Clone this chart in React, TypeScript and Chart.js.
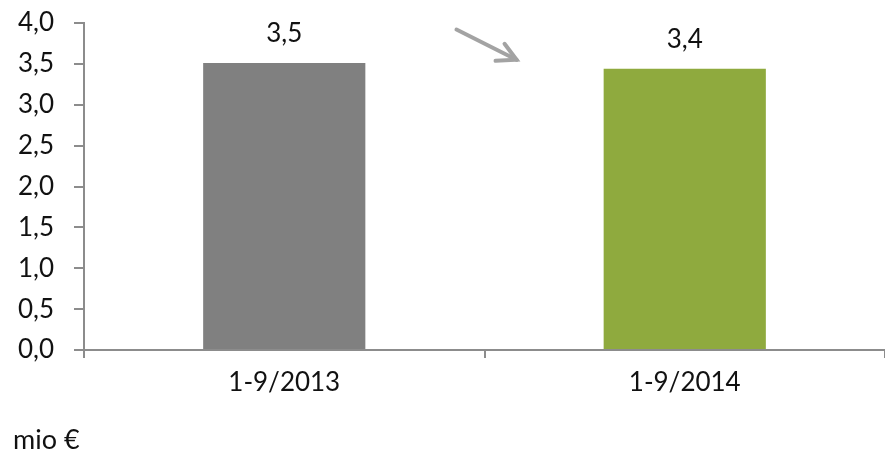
import React, { useEffect, useRef } from "react";
import { Chart, registerables } from "chart.js";

Chart.register(...registerables);

const categories = ["1-9/2013", "1-9/2014"];
const values = [3.51, 3.44];
const barColors = ["#808080", "#8faa3e"];
const yTicks = [0, 0.5, 1, 1.5, 2, 2.5, 3, 3.5, 4];
const unitLabel = "mio €";
// arrow from/to in (category index, value) space
const arrowFrom = [0.43, 3.92];
const arrowTo = [0.58, 3.55];

const FONT = "Lato, 'Open Sans', sans-serif";
const FS = 26;
const fmt = (v: number) => v.toFixed(1).replace(".", ",");

export default function App() {
  const ref = useRef<HTMLCanvasElement | null>(null);

  useEffect(() => {
    document.body.style.margin = "0";
    const canvas = ref.current;
    if (!canvas) return;

    const labelPlugin = {
      id: "valueLabels",
      afterDatasetsDraw(chart: any) {
        const ctx = chart.ctx;
        const meta = chart.getDatasetMeta(0);
        ctx.save();
        ctx.font = `${FS}px ${FONT}`;
        ctx.fillStyle = "#111";
        ctx.textAlign = "center";
        ctx.textBaseline = "middle";
        meta.data.forEach((bar: any, i: number) => {
          ctx.fillText(fmt(values[i]), bar.x, bar.y - 29);
        });
        // arrow
        const xs = chart.scales.x;
        const ys = chart.scales.y;
        const px = (c: number) => {
          const a = xs.getPixelForValue(0);
          const b = xs.getPixelForValue(1);
          return a + (b - a) * c;
        };
        const x1 = px(arrowFrom[0]);
        const y1 = ys.getPixelForValue(arrowFrom[1]);
        const x2 = px(arrowTo[0]);
        const y2 = ys.getPixelForValue(arrowTo[1]);
        ctx.strokeStyle = "#a3a3a3";
        ctx.lineWidth = 4;
        ctx.lineCap = "round";
        ctx.beginPath();
        ctx.moveTo(x1, y1);
        ctx.lineTo(x2, y2);
        ctx.stroke();
        ctx.beginPath();
        ctx.moveTo(x2 - 12, y2 - 16);
        ctx.lineTo(x2, y2);
        ctx.lineTo(x2 - 21, y2 + 1);
        ctx.stroke();
        ctx.restore();
      },
    };

    const chart = new Chart(canvas, {
      type: "bar",
      data: {
        labels: categories,
        datasets: [
          {
            data: values,
            backgroundColor: barColors,
            barPercentage: 0.405,
            categoryPercentage: 1,
          },
        ],
      },
      options: {
        animation: false,
        responsive: false,
        maintainAspectRatio: false,
        devicePixelRatio: 1,
        layout: { padding: { top: 23, right: 0, bottom: 0, left: 0 } },
        plugins: {
          legend: { display: false },
          tooltip: { enabled: false },
        },
        scales: {
          x: {
            offset: true,
            grid: {
              display: true,
              drawOnChartArea: false,
              drawTicks: true,
              tickLength: 8,
              offset: true,
              color: "#8c8c8c",
              lineWidth: 2,
            },
            border: { display: true, color: "#8c8c8c", width: 2 },
            ticks: {
              color: "#111",
              font: { family: FONT, size: FS },
              padding: 9,
            },
            afterFit(scale: any) {
              scale.height = 109;
              scale.paddingLeft = 0;
              scale.paddingRight = 0;
            },
          },
          y: {
            min: 0,
            max: 4,
            afterBuildTicks(scale: any) {
              scale.ticks = yTicks.map((v) => ({ value: v }));
            },
            grid: {
              display: true,
              drawOnChartArea: false,
              drawTicks: true,
              tickLength: 10,
              color: "#8c8c8c",
              lineWidth: 2,
            },
            border: { display: true, color: "#8c8c8c", width: 2 },
            ticks: {
              color: "#111",
              font: { family: FONT, size: FS },
              padding: 20,
              callback: (v: any) => fmt(Number(v)),
            },
            afterFit(scale: any) {
              scale.width = 84;
              scale.paddingTop = 0;
              scale.paddingBottom = 0;
            },
          },
        },
      },
      plugins: [labelPlugin],
    });

    return () => chart.destroy();
  }, []);

  return (
    <div style={{ position: "fixed", left: 0, top: 0, width: 885, height: 459, background: "#fff" }}>
      <canvas ref={ref} width={885} height={459} style={{ display: "block" }} />
      <div
        style={{
          position: "absolute",
          left: 13,
          top: 423,
          fontFamily: FONT,
          fontSize: 27,
          color: "#111",
          lineHeight: "32px",
        }}
      >
        {unitLabel}
      </div>
    </div>
  );
}
